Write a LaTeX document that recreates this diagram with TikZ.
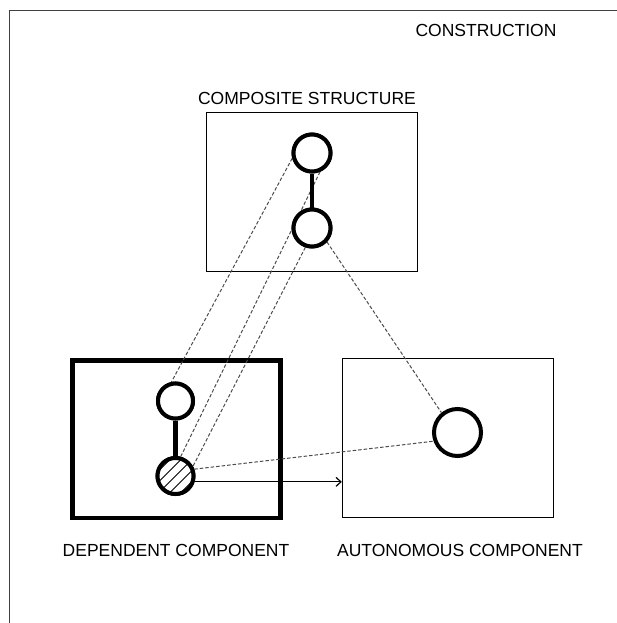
\documentclass[tikz,border=0pt]{standalone}
\usepackage{fontspec}
\setmainfont{Liberation Sans}
\usetikzlibrary{arrows.meta}
\begin{document}
\begin{tikzpicture}[x=1pt,y=-1pt,
  frame/.style={line width=1.8pt, draw=black!75},
  panel/.style={draw, rectangle, line width=1.3pt, inner sep=0pt,
                minimum width=211pt, minimum height=159pt},
  heavypanel/.style={panel, line width=4.5pt,
                minimum width=208pt, minimum height=157.5pt},
  ring/.style={circle, draw, fill=white, line width=4pt, inner sep=0pt},
  stick/.style={line width=4.2pt},
  link/.style={draw=black!70, line width=1pt, dash pattern=on 3.5pt off 2pt},
  lbl/.style={font=\fontsize{17.5}{20}\selectfont, anchor=base, inner sep=0pt},
  hatched/.style={path picture={
      \foreach \k in {-4,...,4}
        \draw[line width=0.8pt, shift={(path picture bounding box.center)}]
          (\k*11-25,25) -- ++(50,-50);}}
]
\useasboundingbox (0,0) rectangle (617,623);

% outer frame (left and top edges)
\draw[frame] (9.5,623) -- (9.5,10.5) -- (617,10.5);

% titles
\node[lbl] (tcons) at (486,37) {CONSTRUCTION};
\node[lbl] (tcomp) at (307,105) {COMPOSITE STRUCTURE};
\node[lbl] (tdep)  at (176,556) {DEPENDENT COMPONENT};
\node[lbl] (taut)  at (460,556) {AUTONOMOUS COMPONENT};

% boxes
\node[panel] (comp) at (312,192) {};
\node[heavypanel] (dep) at (176.5,439) {};
\node[panel] (aut) at (448,438) {};

% circles
\node[ring, minimum size=37pt] (ctop) at (312,153) {};
\node[ring, minimum size=37pt] (cbot) at (312,228) {};
\node[ring, minimum size=35pt] (dtop) at (175.5,401) {};
\node[ring, hatched, minimum size=36pt] (dbot) at (175.5,476) {};
\node[ring, minimum size=47pt] (acir) at (457.5,432.5) {};

% correspondence lines
\draw[link] (ctop.195) -- (dtop.102);
\draw[link] (ctop.-67) -- (dbot.75);
\draw[link] (cbot.-109) -- (dbot.29);
\draw[link] (cbot.-43) -- (acir.129);
\draw[link] (dbot.20) -- (acir.200);

% redraw circles above the dashed lines
\node[ring, minimum size=37pt] at (ctop) {};
\node[ring, minimum size=37pt] at (cbot) {};
\node[ring, minimum size=35pt] at (dtop) {};
\node[ring, hatched, minimum size=36pt] at (dbot) {};

% internal links
\draw[stick] (ctop.south) -- (cbot.north);
\draw[stick] (dtop.south) -- (dbot.north);

% elaboration arrow
\draw[line width=1.2pt, -{Straight Barb[length=5pt,width=9pt]}]
  (dbot.-17) -- (dbot.-17 -| aut.west);
\end{tikzpicture}
\end{document}
